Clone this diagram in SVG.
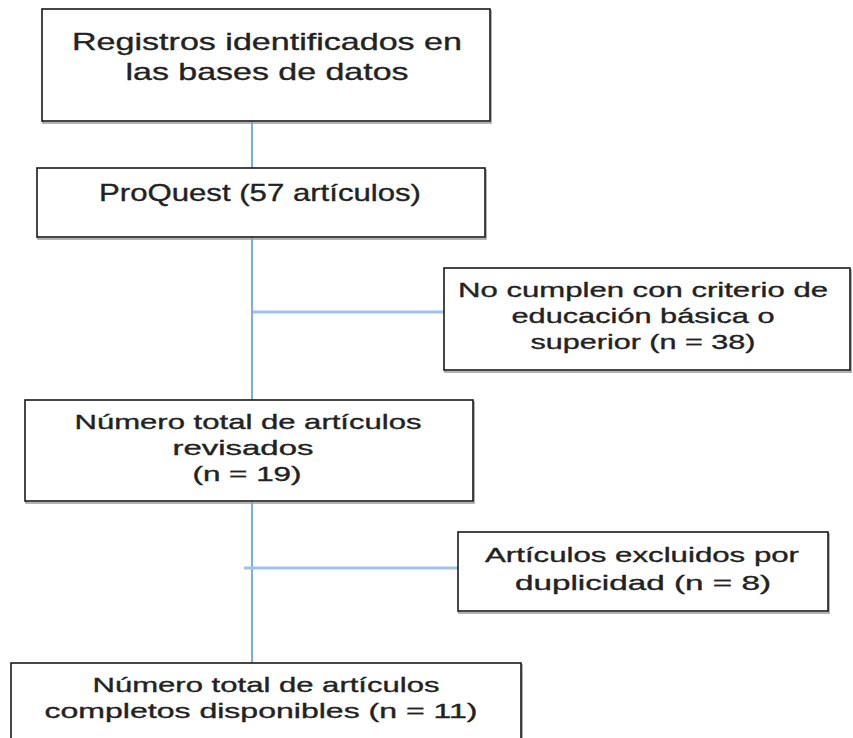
<svg xmlns="http://www.w3.org/2000/svg" width="853" height="738" viewBox="0 0 853 738">
  <defs>
    <style>
      .box { fill: #ffffff; stroke: #1a1a1a; stroke-width: 1.6; }
      .shadow { fill: none; stroke: #9a9a9a; stroke-width: 1.5; }
      .t { font-family: "Liberation Sans", Arial, sans-serif; fill: #222222; stroke: #222222; stroke-width: 0.35; text-anchor: middle; }
      .big { font-size: 24px; }
      .med { font-size: 21px; }
      .vline { stroke: #5b9bd5; stroke-width: 1.6; fill: none; }
      .hline { stroke: #9dc3e6; stroke-width: 3; fill: none; }
    </style>
  </defs>
  <rect width="853" height="738" fill="#ffffff"/>

  <g id="connectors">
    <line class="vline" x1="252" y1="121" x2="252" y2="168"/>
    <line class="vline" x1="252" y1="237" x2="252" y2="400"/>
    <line class="vline" x1="252" y1="501" x2="252" y2="663"/>
    <line class="hline" x1="253" y1="312" x2="444" y2="312"/>
    <line class="hline" x1="244" y1="568" x2="458" y2="568"/>
  </g>

  <g id="registros">
    <rect class="shadow" x="43" y="11" width="448" height="112"/>
    <rect class="box" x="42" y="9" width="448" height="112"/>
    <text class="t big" x="267" y="50" textLength="390" lengthAdjust="spacingAndGlyphs">Registros identificados en</text>
    <text class="t big" x="267" y="80" textLength="283" lengthAdjust="spacingAndGlyphs">las bases de datos</text>
  </g>

  <g id="proquest">
    <rect class="shadow" x="38" y="170" width="448" height="69"/>
    <rect class="box" x="37" y="168" width="448" height="69"/>
    <text class="t big" x="260" y="201" textLength="322" lengthAdjust="spacingAndGlyphs">ProQuest (57 artículos)</text>
  </g>

  <g id="no-cumplen">
    <rect class="shadow" x="445" y="270" width="406" height="102"/>
    <rect class="box" x="444" y="268" width="406" height="102"/>
    <text class="t med" x="643" y="297" textLength="370" lengthAdjust="spacingAndGlyphs">No cumplen con criterio de</text>
    <text class="t med" x="643" y="323" textLength="263" lengthAdjust="spacingAndGlyphs">educación básica o</text>
    <text class="t med" x="643" y="349" textLength="225" lengthAdjust="spacingAndGlyphs">superior (n = 38)</text>
  </g>

  <g id="revisados">
    <rect class="shadow" x="26" y="402" width="448" height="101"/>
    <rect class="box" x="25" y="400" width="448" height="101"/>
    <text class="t med" x="248" y="429" textLength="347" lengthAdjust="spacingAndGlyphs">Número total de artículos</text>
    <text class="t med" x="243" y="455" textLength="141" lengthAdjust="spacingAndGlyphs">revisados</text>
    <text class="t med" x="247" y="481" textLength="109" lengthAdjust="spacingAndGlyphs">(n = 19)</text>
  </g>

  <g id="duplicidad">
    <rect class="shadow" x="459" y="534" width="370" height="79"/>
    <rect class="box" x="458" y="532" width="370" height="79"/>
    <text class="t med" x="642" y="562" textLength="314" lengthAdjust="spacingAndGlyphs">Artículos excluidos por</text>
    <text class="t med" x="643" y="590" textLength="256" lengthAdjust="spacingAndGlyphs">duplicidad (n = 8)</text>
  </g>

  <g id="completos">
    <rect class="shadow" x="12" y="665" width="510" height="80"/>
    <rect class="box" x="11" y="663" width="510" height="80"/>
    <text class="t med" x="266" y="692" textLength="347" lengthAdjust="spacingAndGlyphs">Número total de artículos</text>
    <text class="t med" x="261" y="718" textLength="433" lengthAdjust="spacingAndGlyphs">completos disponibles (n = 11)</text>
  </g>
</svg>
